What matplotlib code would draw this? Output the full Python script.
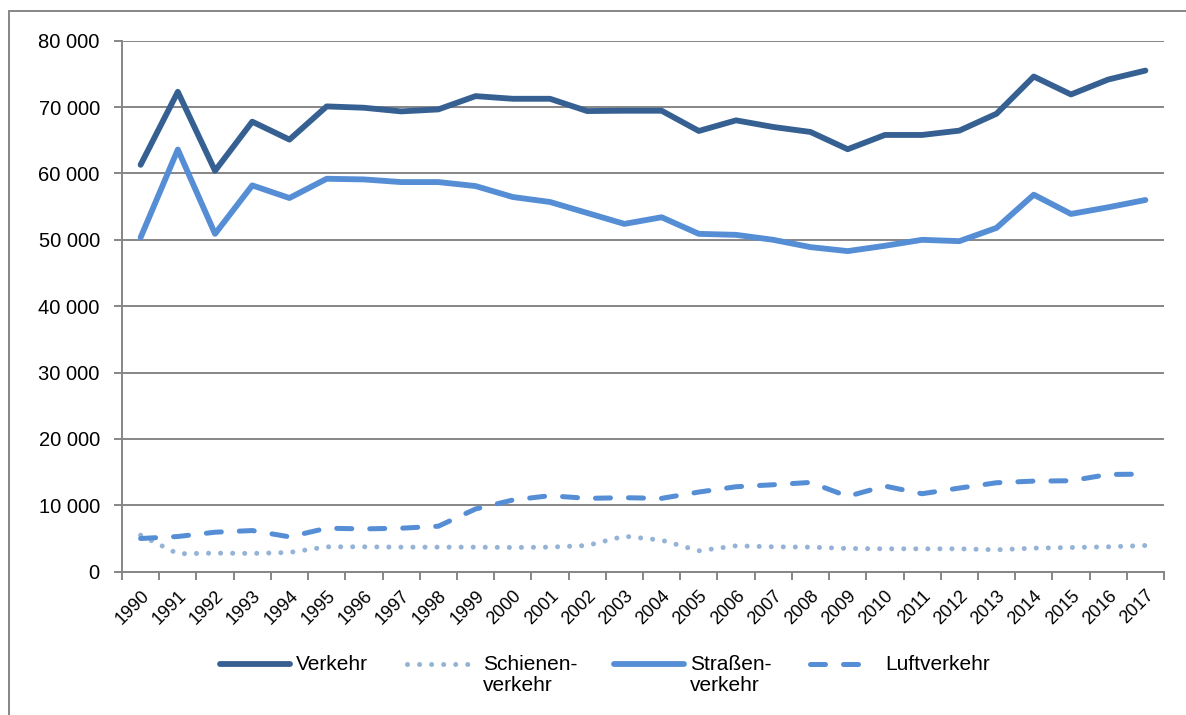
import numpy as np
import matplotlib
matplotlib.use('Agg')
import matplotlib.pyplot as plt
from matplotlib.lines import Line2D
from matplotlib.patches import Rectangle
from matplotlib.ticker import FuncFormatter

plt.rcParams['font.family'] = ['Liberation Sans', 'DejaVu Sans']

# data
years = [str(y) for y in range(1990, 2018)]
verkehr = [61300, 72300, 60400, 67800, 65100, 70100, 69900, 69350, 69650, 71650,
           71250, 71250, 69400, 69450, 69450, 66400, 68000, 67000, 66250, 63650,
           65800, 65800, 66450, 69000, 74600, 71900, 74150, 75500]
schiene = [5500, 2700, 2800, 2750, 2900, 3750, 3750, 3700, 3700, 3700,
           3650, 3700, 3950, 5350, 4750, 3150, 3900, 3750, 3700, 3500,
           3450, 3450, 3450, 3300, 3550, 3650, 3750, 3950]
strasse = [50350, 63600, 50900, 58200, 56300, 59200, 59100, 58700, 58700, 58100,
           56450, 55700, 54050, 52400, 53400, 50900, 50750, 50000, 48900, 48300,
           49100, 50000, 49800, 51800, 56800, 53900, 54900, 56000]
luft = [5000, 5300, 5950, 6200, 5250, 6550, 6450, 6550, 6850, 9450,
        10800, 11450, 11050, 11150, 11050, 12000, 12800, 13100, 13450, 11350,
        12900, 11750, 12600, 13400, 13650, 13700, 14650, 14700]

labels = ['Verkehr', 'Schienen-\nverkehr', 'Straßen-\nverkehr', 'Luftverkehr']
series = [verkehr, schiene, strasse, luft]
styles = [
    dict(color='#366092', lw=4.2, ls='-', solid_capstyle='round'),
    dict(color='#95B3D7', lw=3.6, ls=(0, (0.01, 2.4)), dash_capstyle='round'),
    dict(color='#558ED5', lw=4.2, ls='-', solid_capstyle='round'),
    dict(color='#558ED5', lw=3.6, ls=(0, (3.0, 3.6)), dash_capstyle='round'),
]

W, H = 1186, 715
fig = plt.figure(figsize=(W / 100, H / 100), dpi=100)
ax = fig.add_axes([122 / W, 1 - 571.7 / H, (1164 - 122) / W, (571.7 - 40.7) / H])

x = np.arange(len(years))
for vals, st in zip(series, styles):
    ax.plot(x, vals, solid_joinstyle='round', **st)

grid_c = '#868686'
ax.set_xlim(-0.5, len(years) - 0.5)
ax.set_ylim(0, 80000)
ax.set_yticks(np.arange(0, 80001, 10000))
ax.yaxis.set_major_formatter(FuncFormatter(lambda v, p: f'{int(v):,}'.replace(',', ' ')))
ax.grid(axis='y', color=grid_c, lw=1.4)
ax.set_axisbelow(True)

ax.set_xticks(np.arange(-0.5, len(years)), minor=False)
ax.set_xticklabels([])
ax.set_xticks(x, minor=True)
ax.set_xticklabels(years, minor=True, rotation=45, ha='right', va='top',
                   rotation_mode='anchor', fontsize=13)
ax.tick_params(axis='x', which='major', length=6, width=1.4, color=grid_c, direction='out')
ax.tick_params(axis='x', which='minor', length=0, pad=11)
ax.tick_params(axis='y', length=6, width=1.4, color=grid_c, labelsize=14.5, pad=10)

for s in ['top', 'right']:
    ax.spines[s].set_visible(False)
for s in ['left', 'bottom']:
    ax.spines[s].set_color(grid_c)
    ax.spines[s].set_linewidth(1.4)

# legend drawn by hand so the handle sits at the first text line
leg_y = 1 - 664 / H
handle_x = [(220, 290), (407, 470), (614, 684), (810, 869)]
text_x = [296, 483, 690, 885]
for (x0, x1), tx, lab, st in zip(handle_x, text_x, labels, styles):
    fig.add_artist(Line2D([x0 / W, x1 / W], [leg_y, leg_y], transform=fig.transFigure, **st))
    fig.text(tx / W, 1 - 655 / H, lab, ha='left', va='top', fontsize=15,
             linespacing=1.15)

# outer frame
fig.add_artist(Rectangle((9 / W, -0.1), 1.2, 1.1 - 11 / H, transform=fig.transFigure,
                         fill=False, edgecolor=grid_c, lw=1.4))

fig.savefig('out.png', dpi=100)
